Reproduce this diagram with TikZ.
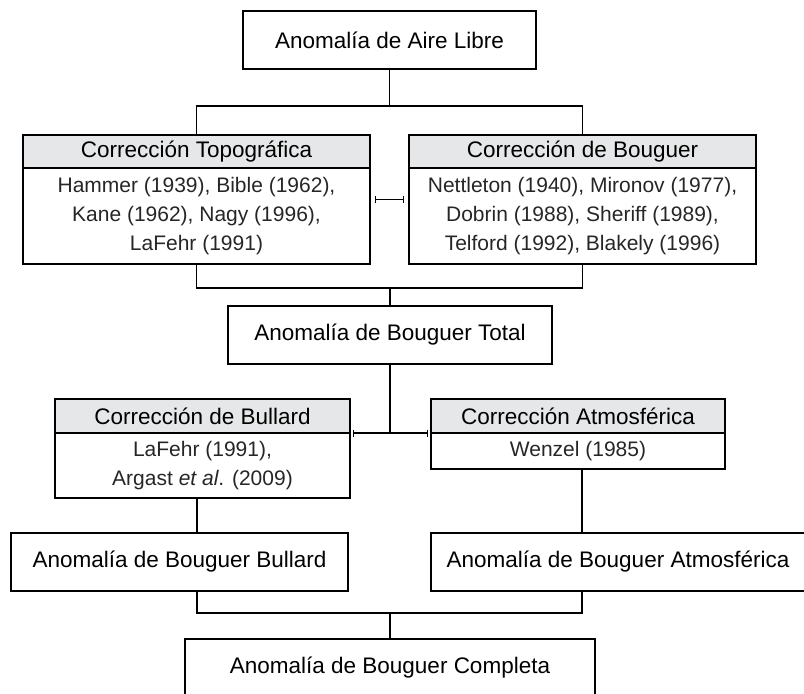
\documentclass[tikz,border=0pt]{standalone}
\usepackage{fontspec}
\setmainfont{Liberation Sans}
\usetikzlibrary{positioning,fit,arrows.meta}
\definecolor{hdrgray}{RGB}{230,231,232}
\newcommand{\titlesize}{\fontsize{22.5}{27}\selectfont}
\newcommand{\refsize}{\fontsize{21}{29}\selectfont}

\begin{document}
\begin{tikzpicture}[x=1pt, y=-1pt,
    box/.style={draw, line width=1.3pt, inner sep=0pt, outer sep=0pt, font=\titlesize, minimum height=58pt},
    head/.style={draw, line width=1.3pt, fill=hdrgray, inner sep=0pt, outer sep=0pt, font=\titlesize, anchor=north},
    body/.style={draw, line width=1.3pt, inner sep=0pt, outer sep=0pt, font=\refsize, align=center, text=black!85, below=0pt of #1},
    link/.style={line width=1.1pt},
    bar/.style={link, {Bar[width=7pt, line width=1.1pt]}-{Bar[width=7pt, line width=1.1pt]}}]
    \useasboundingbox (0,0) rectangle (804,694);

    % Columnas de las lineas
    \coordinate (colL) at (197,0);
    \coordinate (colR) at (582,0);

    % Anomalia de aire libre
    \node[box, minimum width=293pt] (aire) at (389.5,40) {Anomalía de Aire Libre};

    % Correcciones topografica y de Bouguer
    \node[head, minimum width=347pt, minimum height=33pt] (topohead) at (196.5,135) {Corrección Topográfica};
    \node[body=topohead, minimum width=347pt, minimum height=96pt] (topobody)
        {Hammer (1939), Bible (1962),\\ Kane (1962), Nagy (1996),\\ LaFehr (1991)};
    \node[fit=(topohead)(topobody), inner sep=0pt] (topo) {};
    \node[head, minimum width=347pt, minimum height=33pt] (bouhead) at (582.5,135) {Corrección de Bouguer};
    \node[body=bouhead, minimum width=347pt, minimum height=96pt] (boubody)
        {Nettleton (1940), Mironov (1977),\\ Dobrin (1988), Sheriff (1989),\\ Telford (1992), Blakely (1996)};
    \node[fit=(bouhead)(boubody), inner sep=0pt] (boug) {};

    % Bouguer total
    \node[box, minimum width=324pt] (total) at (390,335) {Anomalía de Bouguer Total};

    % Correcciones de Bullard y atmosferica
    \node[head, minimum width=295pt, minimum height=34pt] (bullhead) at (202.5,399) {Corrección de Bullard};
    \node[body=bullhead, minimum width=295pt, minimum height=65pt] (bullbody)
        {LaFehr (1991),\\ Argast \textit{et al}. (2009)};
    \node[head, minimum width=294pt, minimum height=34pt] (atmohead) at (578,399) {Corrección Atmosférica};
    \node[body=atmohead, minimum width=294pt, minimum height=36pt] (atmobody) {Wenzel (1985)};

    % Anomalias resultantes
    \node[box, minimum width=337pt] (bbull) at (179.5,562) {Anomalía de Bouguer Bullard};
    \node[box, minimum width=374pt] (batmo) at (618,562) {Anomalía de Bouguer Atmosférica};
    \node[box, minimum width=410pt] (compl) at (390,668) {Anomalía de Bouguer Completa};

    % Conectores
    \coordinate (j1) at (389.5,106);
    \draw[link] (aire.south) -- (j1);
    \draw[link] (topo.north) |- (j1) -| (boug.north);
    \draw[bar, shorten <=5pt, shorten >=5pt] (topo.east) -- (boug.west);

    \coordinate (j2) at (390,288);
    \draw[link] (topo.south) |- (j2) -| (boug.south);
    \draw[link] (j2) -- (total.north);

    \draw[link] (total.south) -- (total.south |- bullhead.south);
    \draw[bar, shorten <=3pt, shorten >=3pt] (bullhead.south east) -- (atmohead.south west);

    \draw[link] (colL |- bullbody.south) -- (colL |- bbull.north);
    \draw[link] (colR |- atmobody.south) -- (colR |- batmo.north);

    \coordinate (j3) at (390,613);
    \draw[link] (colL |- bbull.south) |- (j3) -| (colR |- batmo.south);
    \draw[link] (j3) -- (compl.north);
\end{tikzpicture}
\end{document}
